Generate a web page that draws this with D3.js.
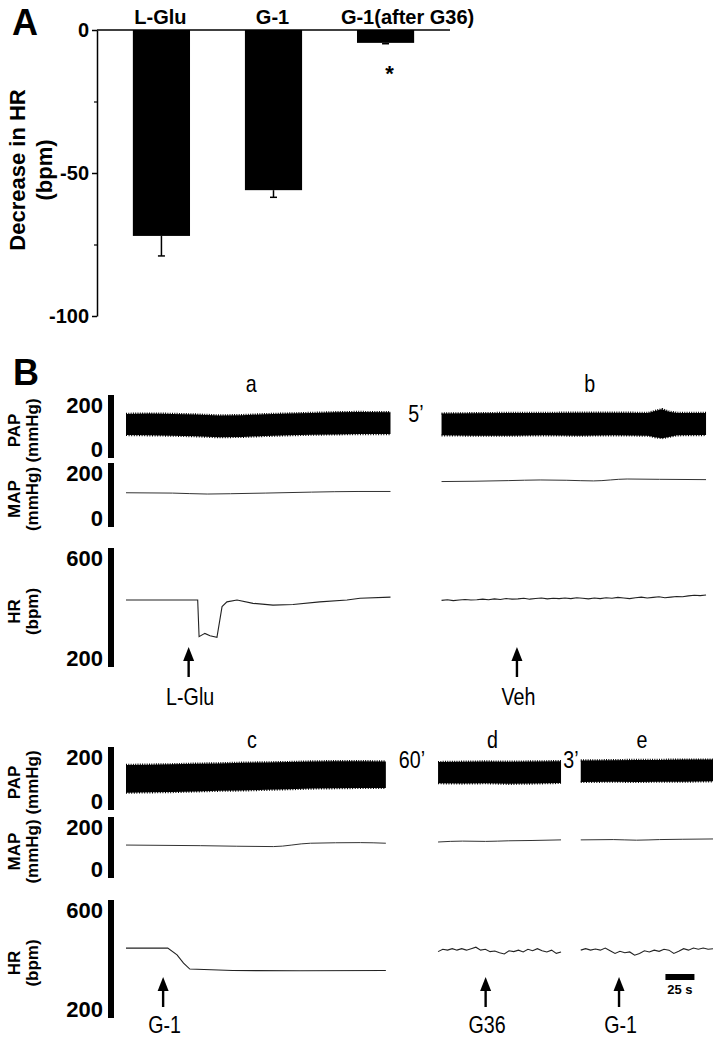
<!DOCTYPE html>
<html>
<head>
<meta charset="utf-8">
<script src="https://cdn.jsdelivr.net/npm/d3@7"></script>
<style>
  body { margin: 0; background: #fff; }
  svg { display: block; font-family: "Liberation Sans", Arial, Helvetica, sans-serif; }
</style>
</head>
<body>
<svg id="fig"></svg>
<script>
const width = 719;
const height = 1039;

// ---- Panel A data ----
const groups = ["L-Glu", "G-1", "G-1(after G36)"];
const hrDrop = [-72, -56, -4.5];
const hrSem = [7, 2.5, 0.3];
const sigGroups = ["G-1(after G36)"];
const aTicks = [0, -50, -100];
const aMinorTicks = [-25, -75];

// ---- Panel B data (time in s) ----
const topSegments = ["a", "b"];
const topSpans = [[0, 228], [272, 500]];
const topGaps = ["5’"];
const bottomSegments = ["c", "d", "e"];
const bottomSpans = [[0, 224], [269, 375], [392, 506]];
const bottomGaps = ["60’", "3’"];

const papTicks = [0, 200];
const mapTicks = [0, 200];
const hrTicks = [200, 600];

// PAP envelopes [t, systolic, diastolic]
const papA = [[0,140,73],[20,141,72],[40,140,71],[60,138,69],[80,135,66],[100,136,67],[120,139,70],[140,141,72],[160,143,74],[180,145,75],[200,146,76],[228,145,76]];
const papB = [[272,141,72],[300,142,71],[330,143,71],[360,143,72],[390,144,71],[420,144,72],[450,143,71],[456,149,66],[462,155,63],[468,147,67],[475,143,72],[500,143,73]];
const papC = [[0,143,55],[20,144,56],[40,145,57],[60,147,59],[80,148,61],[100,150,62],[120,151,64],[140,152,66],[160,154,68],[180,155,69],[200,155,70],[224,154,70]];
const papD = [[269,152,85],[290,153,84],[310,154,85],[330,153,83],[350,154,84],[375,155,86]];
const papE = [[392,157,89],[420,158,90],[440,159,89],[460,159,90],[480,160,90],[506,160,91]];

// MAP [t, mmHg]
const mapA = [[0,107],[40,106],[70,103],[90,104],[120,106],[160,109],[200,111],[228,111]];
const mapB = [[272,142],[300,143],[330,145],[357,147],[380,146],[403,144],[432,150],[460,149],[500,148]];
const mapC = [[0,108],[64,106],[127,103],[159,114],[202,116],[224,114]];
const mapD = [[269,118],[290,121],[310,120],[330,122],[350,123],[375,125]];
const mapE = [[392,125],[420,126],[440,124],[460,126],[480,127],[506,128]];

// HR [t, bpm] or evenly sampled values
const hrA = [[0,425],[61.8,425],[63,302],[68,313],[72.4,305],[78.4,300],[82.8,403],[87,419],[95.7,425],[109.5,414],[126.7,408],[144,410],[167,419],[190.5,425],[201.7,431],[228,435]];
const hrB = [424,426,423,425,427,425,426,428,426,429,427,430,428,429,431,428,430,432,429,431,430,432,430,433,431,429,432,430,433,431,434,432,430,433,435,432,434,436,433,435,437,436,439,441,440,442];
const hrC = [[0,437],[36,437],[44,414],[49.6,386],[55,366],[92,361],[150,360],[224,361]];
const hrD = [425,433,430,435,430,435,430,435,440,430,433,425,427,421,417,428,425,430,424,433,428,435,428,424,430,419,424];
const hrE = [430,435,430,434,430,437,428,419,426,421,424,413,419,428,424,430,426,433,430,419,426,435,430,437,433,437,433,435];

const topInjections = [["L-Glu", 54], ["Veh", 337]];
const bottomInjections = [["G-1", 32], ["G36", 310], ["G-1", 425]];
const scaleBar = [465, 490];
const scaleBarLabel = "25 s";

const svg = d3.select("#fig").attr("width", width).attr("height", height);
const bold = (sel, size) => sel.attr("font-weight", "bold").attr("font-size", size);

// ================= Panel A =================
const ya = d3.scaleLinear().domain([-100, 0]).range([316, 30]);
const xa = d3.scaleBand().domain(groups).range([97, 450]).paddingInner(0.49).paddingOuter(0.32);

const gA = svg.append("g");
gA.append("text").attr("x", 12).attr("y", 35).text("A").call(bold, 36);

gA.append("g")
  .attr("transform", "translate(97,0)")
  .call(d3.axisLeft(ya).tickValues(aTicks).tickFormat((d) => String(d)).tickSize(5).tickSizeOuter(0).tickPadding(3))
  .attr("font-family", null)
  .call((g) => g.selectAll("text").attr("fill", "#000").call(bold, 20))
  .call((g) => g.selectAll("line,path").attr("stroke", "#000").attr("stroke-width", 1.5));
gA.append("g")
  .attr("transform", "translate(97,0)")
  .call(d3.axisLeft(ya).tickValues(aMinorTicks).tickFormat("").tickSize(3).tickSizeOuter(0))
  .call((g) => g.select(".domain").remove())
  .call((g) => g.selectAll("line").attr("stroke", "#000").attr("stroke-width", 1.2));

gA.append("line")
  .attr("x1", xa.range()[0]).attr("x2", xa.range()[1])
  .attr("y1", ya(0)).attr("y2", ya(0))
  .attr("stroke", "#000").attr("stroke-width", 1.5);

gA.selectAll("rect.bar")
  .data(groups)
  .join("rect")
  .attr("class", "bar")
  .attr("x", (d) => xa(d))
  .attr("y", ya(0))
  .attr("width", xa.bandwidth())
  .attr("height", (d, i) => ya(hrDrop[i]) - ya(0))
  .attr("fill", "#000");

const err = gA.selectAll("g.err").data(groups).join("g").attr("class", "err")
  .attr("transform", (d) => `translate(${xa(d) + xa.bandwidth() / 2},0)`);
err.append("line").attr("y1", (d, i) => ya(hrDrop[i])).attr("y2", (d, i) => ya(hrDrop[i] - hrSem[i]))
  .attr("stroke", "#000").attr("stroke-width", 1.5);
err.append("line").attr("x1", -3.5).attr("x2", 3.5)
  .attr("y1", (d, i) => ya(hrDrop[i] - hrSem[i])).attr("y2", (d, i) => ya(hrDrop[i] - hrSem[i]))
  .attr("stroke", "#000").attr("stroke-width", 1.5);

gA.selectAll("text.cat")
  .data(groups)
  .join("text")
  .attr("class", "cat")
  .attr("x", (d, i) => xa(d) + xa.bandwidth() / 2 + (i === 2 ? 22 : -1))
  .attr("y", 24)
  .attr("text-anchor", "middle")
  .text((d) => d)
  .call(bold, 20);

gA.selectAll("text.sig")
  .data(sigGroups)
  .join("text")
  .attr("class", "sig")
  .attr("x", (d) => xa(d) + xa.bandwidth() / 2 + 4)
  .attr("y", (d) => ya(hrDrop[groups.indexOf(d)]) + 38)
  .attr("text-anchor", "middle")
  .text("*")
  .call(bold, 22);

const yTitle = gA.append("text")
  .attr("transform", `translate(0,170) rotate(-90)`)
  .attr("text-anchor", "middle")
  .call(bold, 22);
yTitle.append("tspan").attr("x", 0).attr("y", 25).text("Decrease in HR");
yTitle.append("tspan").attr("x", 0).attr("y", 52).text("(bpm)");

// ================= Panel B =================
svg.append("text").attr("x", 13).attr("y", 385).text("B").call(bold, 36);

const xt = d3.scaleLinear().domain([0, 506]).range([126, 713]);
const spread = (values, span) =>
  values.map((v, i) => [span[0] + (i * (span[1] - span[0])) / (values.length - 1), v]);

const rows = [
  {
    segments: topSegments, spans: topSpans, gaps: topGaps,
    pap: [papA, papB], map: [mapA, mapB], hr: [hrA, spread(hrB, topSpans[1])],
    inj: topInjections,
    box: { pap: [395, 458], map: [463, 527], hr: [548, 667], title: 392, gap: 422, tip: 647, inj: 705 },
    dx: [-7, 16],
  },
  {
    segments: bottomSegments, spans: bottomSpans, gaps: bottomGaps,
    pap: [papC, papD, papE], map: [mapC, mapD, mapE],
    hr: [hrC, spread(hrD, bottomSpans[1]), spread(hrE, bottomSpans[2])],
    inj: bottomInjections,
    box: { pap: [747, 810], map: [817, 878], hr: [900, 1018], title: 748, gap: 768, tip: 977, inj: 1033 },
    dx: [-4, -7, -5],
    scaleBar: 974,
  },
];

function narrow(sel, x, y) {
  return sel.attr("transform", `translate(${x},${y}) scale(0.82,1)`).attr("text-anchor", "middle");
}

function drawAxis(g, range, domain, ticks, label1, label2) {
  const y = d3.scaleLinear().domain(domain).range([range[1], range[0]]);
  g.append("line")
    .attr("x1", 111).attr("x2", 111)
    .attr("y1", y(domain[1])).attr("y2", y(domain[0]))
    .attr("stroke", "#000").attr("stroke-width", 6);
  g.selectAll(null)
    .data(ticks)
    .join("text")
    .attr("x", 103)
    .attr("y", (d) => (d === domain[1] ? y(d) + 18 : y(d) - 1))
    .attr("text-anchor", "end")
    .text((d) => d)
    .call(bold, 22);
  const cy = (range[0] + range[1]) / 2 + 4;
  const t = g.append("text")
    .attr("transform", `translate(0,${cy}) rotate(-90)`)
    .attr("text-anchor", "middle")
    .call(bold, 17);
  t.append("tspan").attr("x", 0).attr("y", 20).text(label1);
  t.append("tspan").attr("x", 0).attr("y", 38).text(label2);
  return y;
}

rows.forEach((row) => {
  const g = svg.append("g");
  const b = row.box;
  const yPap = drawAxis(g, b.pap, [0, 200], papTicks, "PAP", "(mmHg)");
  const yMap = drawAxis(g, b.map, [0, 200], mapTicks, "MAP", "(mmHg)");
  const yHr = drawAxis(g, b.hr, [200, 600], hrTicks, "HR", "(bpm)");

  // segment titles
  row.segments.forEach((name, i) => {
    const cx = xt((row.spans[i][0] + row.spans[i][1]) / 2) + row.dx[i];
    g.append("text").call(narrow, cx, b.title).attr("font-size", 24).text(name);
  });
  // gap labels
  row.gaps.forEach((lab, i) => {
    const cx = xt((row.spans[i][1] + row.spans[i + 1][0]) / 2);
    g.append("text").call(narrow, cx, b.gap).attr("font-size", 24).text(lab);
  });

  // PAP pulsatile band (envelope)
  const papArea = d3.area().x((d) => xt(d[0])).y0((d) => yPap(d[2])).y1((d) => yPap(d[1]));
  const papTop = d3.line().x((d) => xt(d[0])).y((d) => yPap(d[1]));
  const papBot = d3.line().x((d) => xt(d[0])).y((d) => yPap(d[2]));
  row.pap.forEach((s) => {
    g.append("path").attr("d", papArea(s)).attr("fill", "#000");
    g.append("path").attr("d", papTop(s)).attr("fill", "none").attr("stroke", "#000")
      .attr("stroke-width", 2.4).attr("stroke-dasharray", "1 1.3");
    g.append("path").attr("d", papBot(s)).attr("fill", "none").attr("stroke", "#000")
      .attr("stroke-width", 2.2).attr("stroke-dasharray", "1 1.6");
  });

  const mapLine = d3.line().x((d) => xt(d[0])).y((d) => yMap(d[1])).curve(d3.curveMonotoneX);
  row.map.forEach((s) => {
    g.append("path").attr("d", mapLine(s)).attr("fill", "none").attr("stroke", "#333").attr("stroke-width", 1);
  });

  const hrLine = d3.line().x((d) => xt(d[0])).y((d) => yHr(d[1]));
  row.hr.forEach((s) => {
    g.append("path").attr("d", hrLine(s)).attr("fill", "none").attr("stroke", "#222").attr("stroke-width", 1.1);
  });

  // injection arrows
  row.inj.forEach(([lab, t]) => {
    const x = xt(t);
    g.append("line").attr("x1", x).attr("x2", x).attr("y1", b.tip + 10).attr("y2", b.tip + 30)
      .attr("stroke", "#000").attr("stroke-width", 2.4);
    g.append("path")
      .attr("d", `M${x},${b.tip}L${x - 5.5},${b.tip + 14}L${x + 5.5},${b.tip + 14}Z`)
      .attr("fill", "#000");
    g.append("text").call(narrow, x + 1.5, b.inj).attr("font-size", 24).text(lab);
  });

  if (row.scaleBar) {
    g.append("rect")
      .attr("x", xt(scaleBar[0])).attr("y", row.scaleBar)
      .attr("width", xt(scaleBar[1]) - xt(scaleBar[0])).attr("height", 6)
      .attr("fill", "#000");
    g.append("text")
      .attr("x", (xt(scaleBar[0]) + xt(scaleBar[1])) / 2)
      .attr("y", row.scaleBar + 20)
      .attr("text-anchor", "middle")
      .text(scaleBarLabel)
      .call(bold, 13);
  }
});
</script>
</body>
</html>
